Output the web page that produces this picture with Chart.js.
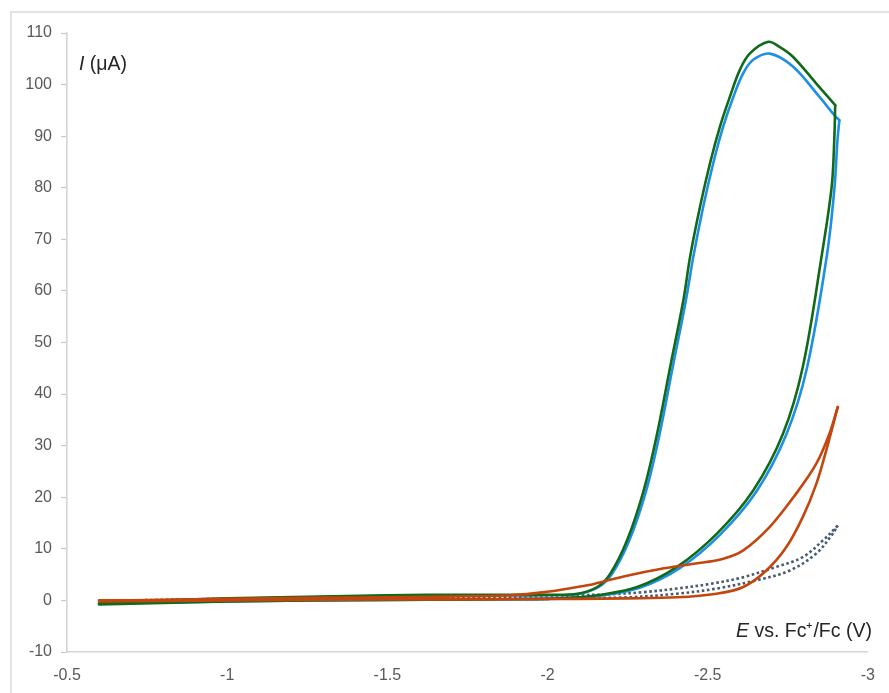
<!DOCTYPE html>
<html>
<head>
<meta charset="utf-8">
<script src="https://cdn.jsdelivr.net/npm/chart.js@4.4.1/dist/chart.umd.min.js"></script>
<style>
  html, body { margin: 0; padding: 0; background: #ffffff; }
  body { width: 889px; height: 693px; position: relative; overflow: hidden; }
  #frame { position: absolute; left: 10px; top: 11px; width: 900px; height: 720px; border: 2px solid #e2e2e2; box-sizing: border-box; }
  #wrap { position: absolute; left: 0; top: 0; width: 889px; height: 693px; }
</style>
</head>
<body>
<div id="frame"></div>
<div id="wrap"><canvas id="c" width="889" height="693"></canvas></div>
<script>
// Axis ticks
const xTicks = [-0.5, -1, -1.5, -2, -2.5, -3];
const yTicks = [-10, 0, 10, 20, 30, 40, 50, 60, 70, 80, 90, 100, 110];

// Green CV: forward scan, then reverse scan (starting at the switching potential)
const greenFwdE = [-0.6, -0.8, -1.0, -1.25, -1.5, -1.75, -2.0, -2.093, -2.155, -2.28, -2.404, -2.528, -2.642, -2.735, -2.797, -2.857, -2.887, -2.895, -2.898];
const greenFwdI = [-0.8, -0.5, -0.2, 0.0, 0.1, 0.2, 0.3, 0.6, 1.0, 2.6, 6.5, 12.9, 21.3, 32.3, 45.3, 67.3, 80.2, 89.2, 96.0];
const greenRevE = [-2.898, -2.839, -2.766, -2.724, -2.689, -2.631, -2.60, -2.569, -2.538, -2.507, -2.476, -2.445, -2.424, -2.383, -2.342, -2.30, -2.248, -2.196, -2.155, -2.093, -2.0, -1.75, -1.5, -1.25, -1.0, -0.8, -0.6];
const greenRevI = [96.0, 100.2, 105.4, 107.3, 108.3, 106.0, 102.8, 97.6, 91.8, 84.7, 76.3, 66.6, 58.2, 45.3, 32.3, 21.3, 11.6, 5.2, 2.6, 1.3, 1.1, 1.1, 1.0, 0.7, 0.4, 0.0, -0.6];

// Blue CV
const blueFwdE = [-0.6, -0.8, -1.0, -1.25, -1.5, -1.75, -2.0, -2.093, -2.165, -2.29, -2.414, -2.538, -2.652, -2.745, -2.810, -2.873, -2.896, -2.905, -2.911];
const blueFwdI = [-0.6, -0.4, -0.2, 0.0, 0.1, 0.2, 0.3, 0.5, 0.9, 2.5, 6.3, 12.7, 21.1, 32.1, 45.1, 67.3, 80.2, 89.2, 93.1];
const blueRevE = [-2.911, -2.895, -2.849, -2.766, -2.694, -2.642, -2.611, -2.580, -2.548, -2.517, -2.486, -2.455, -2.432, -2.391, -2.350, -2.308, -2.255, -2.202, -2.160, -2.093, -2.0, -1.75, -1.5, -1.25, -1.0, -0.8, -0.6];
const blueRevI = [93.1, 94.1, 97.6, 103.5, 106.0, 104.8, 102.2, 97.6, 91.8, 84.7, 76.3, 66.6, 58.2, 45.3, 32.3, 21.3, 11.6, 5.2, 2.6, 1.2, 1.0, 1.0, 0.9, 0.6, 0.3, -0.1, -0.5];

// Red CV
const redFwdE = [-0.6, -0.8, -1.0, -1.25, -1.5, -1.75, -2.0, -2.093, -2.25, -2.404, -2.528, -2.611, -2.683, -2.745, -2.797, -2.839, -2.870, -2.906];
const redFwdI = [-0.2, -0.1, 0.0, 0.1, 0.2, 0.2, 0.3, 0.3, 0.4, 0.6, 1.3, 2.6, 5.8, 10.3, 16.2, 22.6, 29.1, 37.5];
const redRevE = [-2.906, -2.880, -2.839, -2.776, -2.693, -2.611, -2.549, -2.456, -2.352, -2.248, -2.145, -2.093, -1.99, -1.885, -1.75, -1.5, -1.25, -1.0, -0.8, -0.6];
const redRevI = [37.5, 32.3, 26.5, 20.7, 14.2, 9.7, 8.1, 7.1, 6.1, 4.8, 3.2, 2.6, 1.6, 1.0, 0.8, 0.6, 0.5, 0.3, 0.1, 0.0];

// Dotted CV (blank)
const dotFwdE = [-0.6, -1.0, -1.5, -2.0, -2.093, -2.248, -2.404, -2.528, -2.652, -2.756, -2.839, -2.890, -2.906];
const dotFwdI = [-0.2, 0.0, 0.2, 0.3, 0.45, 0.6, 1.3, 2.3, 3.9, 5.8, 9.1, 12.9, 14.5];
const dotRevE = [-2.906, -2.859, -2.797, -2.714, -2.611, -2.507, -2.404, -2.300, -2.196, -2.093, -2.0, -1.5, -1.0, -0.6];
const dotRevI = [14.5, 11.6, 8.4, 6.5, 4.5, 3.2, 2.3, 1.6, 1.2, 1.0, 0.8, 0.5, 0.3, -0.1];

function pts(ex, iy) { return ex.map((e, k) => ({ x: e, y: iy[k] })); }

const titlePlugin = {
  id: 'axisTitles',
  afterDraw(chart) {
    const ctx = chart.ctx;
    const a = chart.chartArea;
    ctx.save();
    ctx.fillStyle = '#262626';
    ctx.textBaseline = 'alphabetic';
    const fs = '19.5px "Liberation Sans", Arial, sans-serif';
    const fsi = 'italic 19.5px "Liberation Sans", Arial, sans-serif';
    // Y title: "I (μA)"
    let x = a.left + 12, y = a.top + 37;
    ctx.font = fsi; ctx.fillText('I', x, y); x += ctx.measureText('I').width;
    ctx.font = fs; ctx.fillText(' (μA)', x, y);
    // X title: "E vs. Fc⁺/Fc (V)" right aligned
    const rest = ' vs. Fc⁺/Fc (V)';
    ctx.font = fs; const wr = ctx.measureText(rest).width;
    ctx.font = fsi; const we = ctx.measureText('E').width;
    const right = a.right + 4, by = a.bottom - 15;
    ctx.font = fsi; ctx.fillText('E', right - wr - we, by);
    ctx.font = fs; ctx.fillText(rest, right - wr, by);
    ctx.restore();
  }
};

const lw = 2.6;
const ten = 0.35;
function line(label, ex, iy, color, dash) {
  return { label, data: pts(ex, iy), borderColor: color, borderWidth: lw, borderDash: dash || [],
           showLine: true, pointRadius: 0, tension: ten, borderCapStyle: dash ? 'butt' : 'round', borderJoinStyle: 'round' };
}
new Chart(document.getElementById('c'), {
  type: 'scatter',
  data: {
    datasets: [
      line('red forward', redFwdE, redFwdI, '#C4460F'),
      line('red reverse', redRevE, redRevI, '#C4460F'),
      line('green forward', greenFwdE, greenFwdI, '#116A1A'),
      line('green reverse', greenRevE, greenRevI, '#116A1A'),
      line('blue forward', blueFwdE, blueFwdI, '#1E8FE6'),
      line('blue reverse', blueRevE, blueRevI, '#1E8FE6'),
      line('dotted forward', dotFwdE, dotFwdI, '#475A70', [2.6, 2.6]),
      line('dotted reverse', dotRevE, dotRevI, '#475A70', [2.6, 2.6])
    ]
  },
  options: {
    responsive: false,
    animation: false,
    devicePixelRatio: 1,
    layout: { padding: { top: 33, right: 11, left: 0, bottom: 0 } },
    plugins: { legend: { display: false }, tooltip: { enabled: false } },
    scales: {
      x: {
        type: 'linear', reverse: true, min: -3, max: -0.5,
        afterFit(s) { s.height = 41; },
        afterBuildTicks(s) { s.ticks = xTicks.map(v => ({ value: v })); },
        ticks: { color: '#595959', font: { family: '"Liberation Sans", Arial, sans-serif', size: 16 }, padding: 14, maxRotation: 0, callback: v => String(v) },
        grid: { drawOnChartArea: false, drawTicks: false },
        border: { display: true, color: '#d4d4d4', width: 1.6 }
      },
      y: {
        type: 'linear', min: -10, max: 110,
        afterFit(s) { s.width = 67; },
        afterBuildTicks(s) { s.ticks = yTicks.map(v => ({ value: v })); },
        ticks: { color: '#595959', font: { family: '"Liberation Sans", Arial, sans-serif', size: 16 }, padding: 9, callback: v => String(v) },
        grid: { drawOnChartArea: false, drawTicks: true, tickLength: 6, color: '#c8c8c8', tickWidth: 1.2 },
        border: { display: true, color: '#d4d4d4', width: 1.6 }
      }
    }
  },
  plugins: [titlePlugin]
});
</script>
</body>
</html>
